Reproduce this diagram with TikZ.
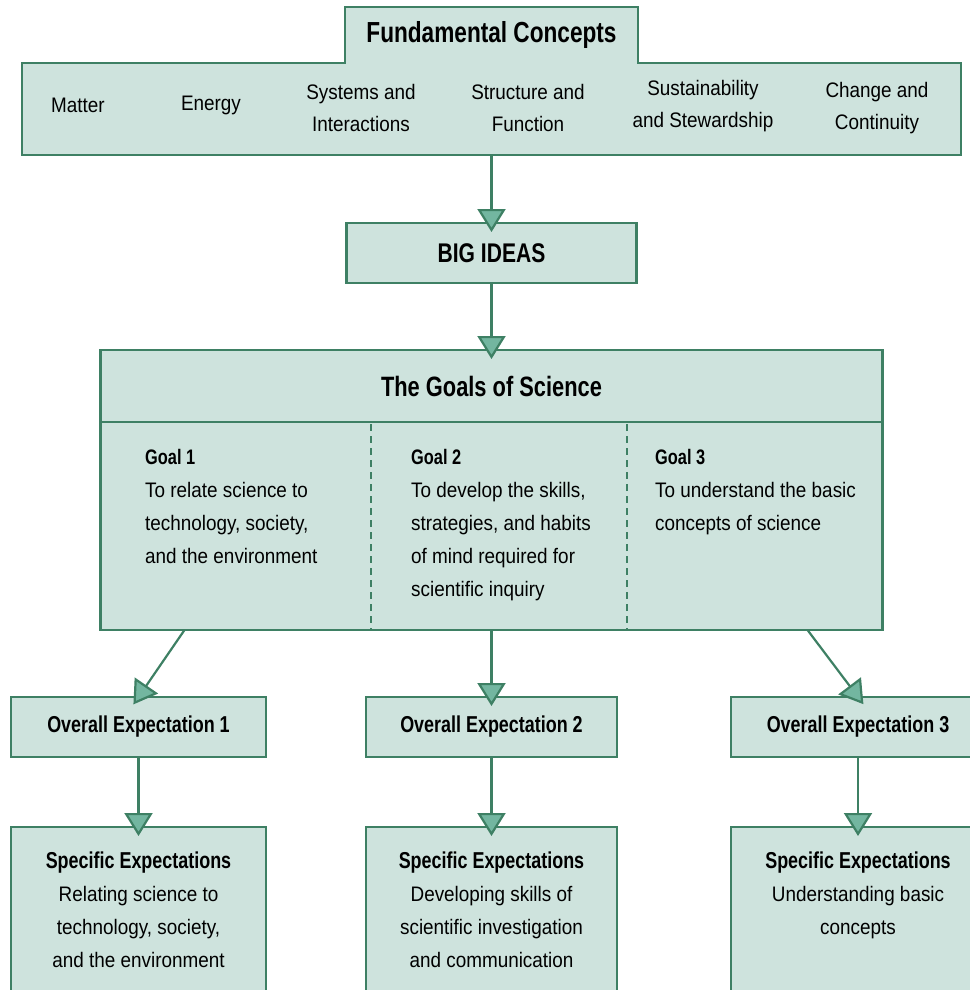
\documentclass[tikz,border=0pt]{standalone}
\usepackage{fontspec}
\setmainfont{Liberation Sans}[FakeStretch=0.9]
\newfontfamily\headfont{Liberation Sans}[FakeStretch=0.78]
\usetikzlibrary{arrows.meta,calc}
\definecolor{edgegreen}{RGB}{62,128,100}
\definecolor{boxfill}{RGB}{206,227,221}
\definecolor{tipfill}{RGB}{115,182,160}

\begin{document}
\begin{tikzpicture}[x=1pt, y=-1pt,
    box/.style={draw=edgegreen, fill=boxfill, line width=2.4pt, rectangle, inner sep=0pt, outer sep=0pt},
    blank/.style={rectangle, inner sep=0pt, outer sep=0pt},
    concept/.style={align=center, font=\fontsize{21}{32}\selectfont},
    head/.style={font=\headfont\bfseries\fontsize{28}{32}\selectfont},
    sub/.style={font=\headfont\bfseries\fontsize{23}{32}\selectfont},
    goaltext/.style={anchor=north west, inner sep=0pt, align=left, font=\fontsize{21}{33}\selectfont},
    setext/.style={anchor=north, inner sep=0pt, align=center, font=\fontsize{21}{33}\selectfont},
    link/.style={draw=edgegreen, line width=2.2pt, shorten >=-9pt, -{Triangle[length=23pt,width=28pt,fill=tipfill]}},
    divider/.style={draw=edgegreen, line width=2pt, dash pattern=on 7pt off 5pt}]
    \useasboundingbox (0,0) rectangle (969,990);

    % Fundamental concepts
    \node [blank, minimum width=939pt, minimum height=92pt] (fc) at (491.5,109) {};
    \node [blank, minimum width=293pt, minimum height=56pt] (tab) at (491.5,35) {};
    \filldraw [draw=edgegreen, fill=boxfill, line width=2.4pt]
      (fc.north west) -- (tab.south west) -- (tab.north west) -- (tab.north east)
      -- (tab.south east) -- (fc.north east) -- (fc.south east) -- (fc.south west) -- cycle;
    \node [head, font=\headfont\bfseries\fontsize{29}{32}\selectfont] (fctitle) at (tab) {Fundamental Concepts};
    \node [concept] (matter) at (78,105) {Matter};
    \node [concept] (energy) at (211,105) {Energy};
    \node [concept] (systems) at (361,108) {Systems and\\Interactions};
    \node [concept] (structure) at (528,108) {Structure and\\Function};
    \node [concept] (sustain) at (703,106) {Sustainability\\and Stewardship};
    \node [concept] (change) at (877,108) {Change and\\Continuity};

    % Big ideas and goals
    \node [box, head, font=\headfont\bfseries\fontsize{27}{32}\selectfont, minimum width=290pt, minimum height=60pt] (big) at (491.5,253) {BIG IDEAS};
    \node [box, head, minimum width=782pt, minimum height=72pt] (goalhead) at (491.5,386) {The Goals of Science};
    \node [box, minimum width=782pt, minimum height=208pt] (goalbody) at (491.5,526) {};
    \draw [divider] ([xshift=270pt,yshift=-2pt]goalbody.north west) -- ([xshift=270pt]goalbody.south west);
    \draw [divider] ([xshift=526pt,yshift=-2pt]goalbody.north west) -- ([xshift=526pt]goalbody.south west);
    \node [goaltext] (goal1) at (145,449) {{\headfont\bfseries Goal 1}\\To relate science to\\technology, society,\\and the environment};
    \node [goaltext] (goal2) at (411,449) {{\headfont\bfseries Goal 2}\\To develop the skills,\\strategies, and habits\\of mind required for\\scientific inquiry};
    \node [goaltext] (goal3) at (655,449) {{\headfont\bfseries Goal 3}\\To understand the basic\\concepts of science};

    % Expectations
    \node [box, sub, minimum width=255pt, minimum height=60pt] (oe1) at (138.5,727) {Overall Expectation 1};
    \node [box, sub, minimum width=251pt, minimum height=60pt] (oe2) at (491.5,727) {Overall Expectation 2};
    \node [box, sub, minimum width=254pt, minimum height=60pt] (oe3) at (858,727) {Overall Expectation 3};
    \node [box, minimum width=255pt, minimum height=200pt] (se1) at (138.5,927) {};
    \node [box, minimum width=251pt, minimum height=200pt] (se2) at (491.5,927) {};
    \node [box, minimum width=254pt, minimum height=200pt] (se3) at (858,927) {};
    \node [setext] (se1txt) at ([yshift=-25pt]se1.north) {{\headfont\bfseries\fontsize{23}{33}\selectfont Specific Expectations}\\Relating science to\\technology, society,\\and the environment};
    \node [setext] (se2txt) at ([yshift=-25pt]se2.north) {{\headfont\bfseries\fontsize{23}{33}\selectfont Specific Expectations}\\Developing skills of\\scientific investigation\\and communication};
    \node [setext] (se3txt) at ([yshift=-25pt]se3.north) {{\headfont\bfseries\fontsize{23}{33}\selectfont Specific Expectations}\\Understanding basic\\concepts};

    % Arrows
    \draw [link] (fc.south) -- (big.north);
    \draw [link] (big.south) -- (goalhead.north);
    \draw [link] ([xshift=84pt]goalbody.south west) -- (oe1.north);
    \draw [link] (goalbody.south) -- (oe2.north);
    \draw [link] ([xshift=-75pt]goalbody.south east) -- (oe3.north);
    \draw [link] (oe1.south) -- (se1.north);
    \draw [link] (oe2.south) -- (se2.north);
    \draw [link] (oe3.south) -- (se3.north);
\end{tikzpicture}
\end{document}
